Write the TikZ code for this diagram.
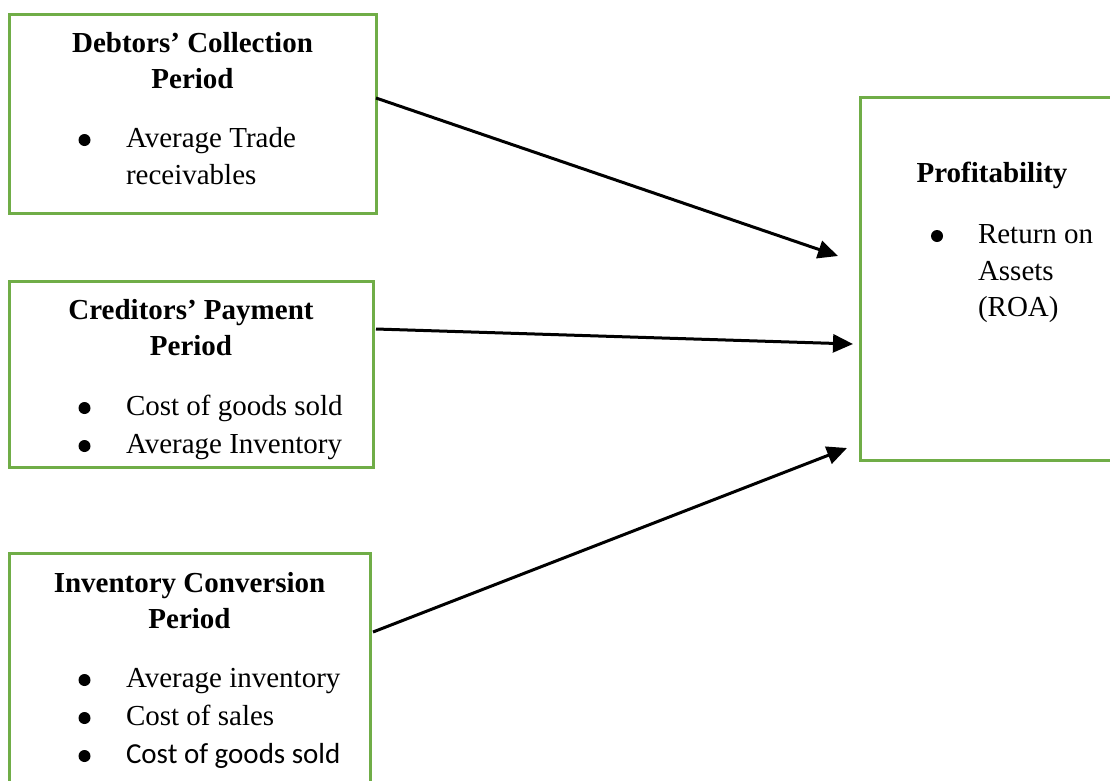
\documentclass[tikz,border=0pt]{standalone}
\usepackage{fontspec}
\setmainfont{Liberation Serif}
\newfontfamily\calibrifont{Carlito}
\usetikzlibrary{arrows.meta,calc}
\definecolor{boxgreen}{HTML}{70AD47}
\begin{document}
\begin{tikzpicture}[x=1pt,y=-1pt,
  box/.style={draw=boxgreen,line width=3pt,rectangle,inner sep=0pt,outer sep=0pt,anchor=north west},
  lbl/.style={inner sep=0pt,outer sep=0pt,anchor=base,font=\fontsize{29}{29}\selectfont},
  ttl/.style={lbl,font=\fontsize{29}{29}\selectfont\bfseries},
  itm/.style={lbl,anchor=base west},
  dot/.style={circle,fill=black,inner sep=0pt,outer sep=0pt,minimum size=12pt},
  arr/.style={line width=3pt,-{Triangle[length=20pt,width=18pt]}}]
\useasboundingbox (0,0) rectangle (1110,780);
\clip (0,0) rectangle (1110,780);
\fill[white] (0,0) rectangle (1110,780);

% boxes
\node[box,minimum width=367pt,minimum height=199pt] (b1) at (9,14) {};
\node[box,minimum width=364pt,minimum height=186pt] (b2) at (9,281) {};
\node[box,minimum width=361pt,minimum height=247pt] (b3) at (9,553) {};
\node[box,minimum width=264pt,minimum height=363pt] (b4) at (860,97) {};

% box 1
\node[ttl] (b1t1) at (192.5,52) {Debtors’ Collection};
\node[ttl] (b1t2) at (192.5,88) {Period};
\node[dot] (b1d1) at (84.5,140) {};
\node[itm] (b1i1) at (126,147) {Average Trade};
\node[itm] (b1i2) at (126,184) {receivables};

% box 2
\node[ttl] (b2t1) at (191,319) {Creditors’ Payment};
\node[ttl] (b2t2) at (191,355) {Period};
\node[dot] (b2d1) at (84.5,408) {};
\node[itm] (b2i1) at (126,415) {Cost of goods sold};
\node[dot] (b2d2) at (84.5,446) {};
\node[itm] (b2i2) at (126,453) {Average Inventory};

% box 3
\node[ttl] (b3t1) at (189.5,592) {Inventory Conversion};
\node[ttl] (b3t2) at (189.5,628) {Period};
\node[dot] (b3d1) at (84.5,680) {};
\node[itm] (b3i1) at (126,687) {Average inventory};
\node[dot] (b3d2) at (84.5,718) {};
\node[itm] (b3i2) at (126,725) {Cost of sales};
\node[dot] (b3d3) at (84.5,756) {};
\node[itm,font=\fontsize{29}{29}\selectfont\calibrifont] (b3i3) at (126,763) {Cost of goods sold};

% box 4
\node[ttl] (b4t1) at (992,182) {Profitability};
\node[dot] (b4d1) at (937,236) {};
\node[itm] (b4i1) at (978,243) {Return on};
\node[itm] (b4i2) at (978,280) {Assets};
\node[itm] (b4i3) at (978,316) {(ROA)};

% arrow tips
\coordinate (t1) at (838,256);
\coordinate (t2) at (853,344);
\coordinate (t3) at (847,448);

\draw[arr] ($(b1.east)+(0,-15.5)$) -- (t1);
\draw[arr] ($(b2.east)+(3,-45)$) -- (t2);
\draw[arr] ($(b3.east)+(3,-44.5)$) -- (t3);
\end{tikzpicture}
\end{document}
